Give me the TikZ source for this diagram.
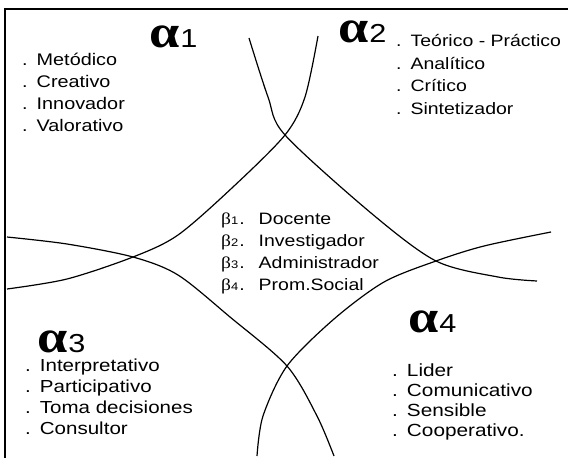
\documentclass[tikz,border=0pt]{standalone}
\usepackage{fontspec}
\setmainfont{Liberation Sans}[FakeStretch=1.18]
\newfontfamily\grk{Liberation Serif}[FakeStretch=1.18]
\usetikzlibrary{positioning}
\newcommand{\itm}{.\hspace{9pt}}
\newcommand{\al}[1]{{\grk\bfseries\fontsize{46}{46}\selectfont α}\hspace{1pt}{\fontsize{26}{26}\selectfont #1}}
\newcommand{\bt}[1]{{\grk β}{\fontsize{11}{11}\selectfont #1}\hspace{1pt}.\hspace{14pt}}

\begin{document}
\begin{tikzpicture}[
		x=1pt, y=-1pt,
		frame/.style = {draw=black, line width=1.3pt},
		curveline/.style = {draw=black, line width=1.2pt},
		items/.style 2 args = {align=left, anchor=base west, inner sep=0pt, font=\fontsize{#1}{#2}\selectfont},
		alphalabel/.style = {anchor=base west, inner sep=0pt}
		]
		\useasboundingbox (0,0) rectangle (568,458);
		
		% frame, only top and left sides
		\coordinate (corner) at (5,9);
		\coordinate (topend) at (568,9);
		\coordinate (leftend) at (5,458);
		\draw[frame] (topend) -- (corner) -- (leftend);
		
		% crossings of the four curves
		\coordinate (ctop) at (285,135);
		\coordinate (cleft) at (133,257);
		\coordinate (cright) at (436,261);
		\coordinate (cbottom) at (287,366);
		
		% free ends of the curves
		\coordinate (e1a) at (249,38);
		\coordinate (e1b) at (537,281);
		\coordinate (e2a) at (318,36);
		\coordinate (e2b) at (7,289);
		\coordinate (e3a) at (7,237);
		\coordinate (e3b) at (334,456);
		\coordinate (e4a) at (257,456);
		\coordinate (e4b) at (551,232);
		
		\draw[curveline] plot[smooth] coordinates {(e1a) (268,97) (ctop) (371,213) (cright) (498,277) (e1b)};
		\draw[curveline] plot[smooth] coordinates {(e2a) (305,97) (ctop) (233,187) (178,235) (cleft) (67,279) (e2b)};
		\draw[curveline] plot[smooth] coordinates {(e3a) (67,244) (cleft) (178,275) (230,317) (cbottom) (317,416) (e3b)};
		\draw[curveline] plot[smooth] coordinates {(e4a) (263,416) (cbottom) (334,319) (384,282) (cright) (484,246) (e4b)};
		
		% alpha labels
		\node[alphalabel] (alpha1) at (149,47) {\al{1}};
		\node[alphalabel] (alpha2) at (338,42) {\al{2}};
		\node[alphalabel] (alpha3) at (37,352) {\al{3}};
		\node[alphalabel] (alpha4) at (408,332) {\al{4}};
		
		% lists, placed by the baseline of their last line
		\node[items={16.8}{22}] (list1) at (22,131) {\itm Metódico\\ \itm Creativo\\ \itm Innovador\\ \itm Valorativo};
		\node[items={16.5}{22.5}] (list2) at (396,114) {\itm Teórico - Práctico\\ \itm Analítico\\ \itm Crítico\\ \itm Sintetizador};
		\node[items={17.4}{20.7}] (list3) at (25,434) {\itm Interpretativo\\ \itm Participativo\\ \itm Toma decisiones\\ \itm Consultor};
		\node[items={17.6}{19.7}] (list4) at (392,436) {\itm Lider\\ \itm Comunicativo\\ \itm Sensible\\ \itm Cooperativo.};
		
		\node[items={16.5}{21.7}] (roles) at (221,290) {\bt{1}Docente\\ \bt{2}Investigador\\ \bt{3}Administrador\\ \bt{4}Prom.Social};
		
		\end{tikzpicture}
\end{document}
